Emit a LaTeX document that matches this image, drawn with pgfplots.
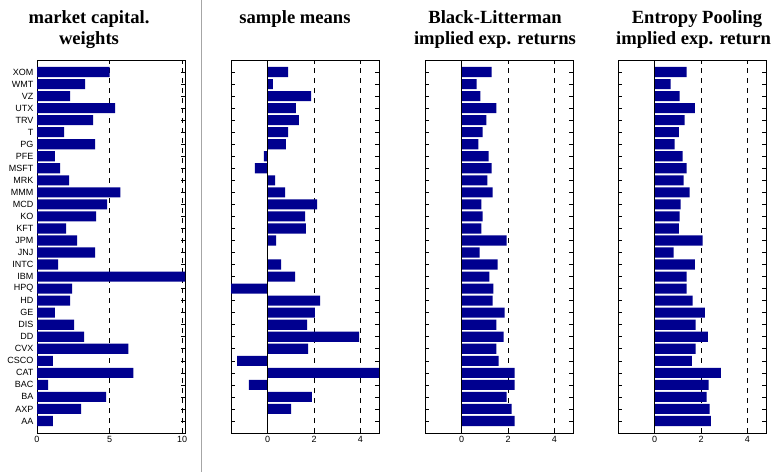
\documentclass[border=0pt]{standalone}
\usepackage{pgfplots}
\pgfplotsset{compat=1.18}
\usepackage{pgfplotstable}
\usepackage{fontspec}
\setmainfont{Liberation Sans}
\newfontfamily\titlefont{Liberation Serif}
\definecolor{barblue}{rgb}{0,0,0.56}

\pgfplotstableread{
idx name mcap smean bl ep
1 AA 1.10 0.00 2.28 2.42
2 AXP 3.04 1.01 2.15 2.37
3 BA 4.77 1.91 1.94 2.24
4 BAC 0.76 -0.81 2.28 2.33
5 CAT 6.64 4.80 2.28 2.85
6 CSCO 1.10 -1.32 1.59 1.60
7 CVX 6.29 1.74 1.50 1.77
8 DD 3.25 3.94 1.81 2.29
9 DIS 2.56 1.70 1.50 1.77
10 GE 1.24 2.04 1.85 2.16
11 HD 2.28 2.26 1.33 1.64
12 HPQ 2.42 -1.58 1.37 1.38
13 IBM 10.50 1.18 1.20 1.38
14 INTC 1.45 0.58 1.55 1.73
15 JNJ 4.00 0.00 0.77 0.82
16 JPM 2.76 0.36 1.94 2.07
17 KFT 2.00 1.65 0.85 1.04
18 KO 4.08 1.61 0.90 1.08
19 MCD 4.84 2.13 0.85 1.12
20 MMM 5.74 0.75 1.33 1.51
21 MRK 2.21 0.32 1.11 1.25
22 MSFT 1.59 -0.55 1.29 1.38
23 PFE 1.24 -0.16 1.16 1.21
24 PG 4.00 0.79 0.72 0.86
25 T 1.87 0.88 0.90 1.04
26 TRV 3.87 1.35 1.07 1.29
27 UTX 5.39 1.22 1.50 1.73
28 VZ 2.28 1.87 0.81 1.08
29 WMT 3.32 0.23 0.64 0.69
30 XOM 5.00 0.88 1.29 1.38
}\data

\pgfplotsset{
  myaxis/.style={
    scale only axis, width=148pt, height=373pt, anchor=south west,
    ymin=0, ymax=31, ytick={1,...,30},
    axis line style={line width=1pt},
    tick style={black, line width=0.6pt},
    major tick length=4pt, tick align=inside,
    xtick pos=both, ytick pos=both,
    xmajorgrids,
    major x grid style={black, line width=0.6pt, dash pattern=on 5pt off 5pt},
    tick label style={font=\fontsize{9}{10}\selectfont},
    /pgf/number format/assume math mode=true,
  },
  mybar/.style={xbar, bar width=0.84, fill=barblue, draw=none},
}

\newcommand{\titleline}[3]{\node[anchor=base, font=\titlefont\bfseries\fontsize{18.6}{22}\selectfont] at (#1pt,#2pt) {#3};}

\begin{document}
\begin{tikzpicture}[x=1pt,y=1pt]
\useasboundingbox (0,0) rectangle (772,472);
\draw[gray!70, line width=1pt] (201,0) -- (201,472);

\titleline{89}{448.7}{market capital.}
\titleline{89}{427.7}{weights}
\titleline{295}{448.7}{sample means}
\titleline{495}{448.7}{Black-Litterman}
\titleline{495}{427.7}{implied exp. returns}
\titleline{697}{448.7}{Entropy Pooling}
\titleline{693.5}{427.7}{implied exp. return}

\begin{axis}[myaxis, at={(37pt,39pt)}, xmin=0, xmax=10.2, xtick={0,5,10},
  yticklabels={AA,AXP,BA,BAC,CAT,CSCO,CVX,DD,DIS,GE,HD,HPQ,IBM,INTC,JNJ,JPM,KFT,KO,MCD,MMM,MRK,MSFT,PFE,PG,T,TRV,UTX,VZ,WMT,XOM}]
\addplot[mybar] table[x=mcap, y=idx] {\data};
\end{axis}

\begin{axis}[myaxis, at={(231pt,39pt)}, xmin=-1.58, xmax=4.8, xtick={0,2,4}, yticklabels={}]
\addplot[mybar] table[x=smean, y=idx] {\data};
\addplot[black, line width=0.6pt] coordinates {(0,0) (0,31)};
\end{axis}

\begin{axis}[myaxis, at={(425pt,39pt)}, xmin=-1.58, xmax=4.8, xtick={0,2,4}, yticklabels={}]
\addplot[mybar] table[x=bl, y=idx] {\data};
\addplot[black, line width=0.6pt] coordinates {(0,0) (0,31)};
\end{axis}

\begin{axis}[myaxis, at={(618pt,39pt)}, xmin=-1.58, xmax=4.8, xtick={0,2,4}, yticklabels={}]
\addplot[mybar] table[x=ep, y=idx] {\data};
\addplot[black, line width=0.6pt] coordinates {(0,0) (0,31)};
\end{axis}
\end{tikzpicture}
\end{document}
